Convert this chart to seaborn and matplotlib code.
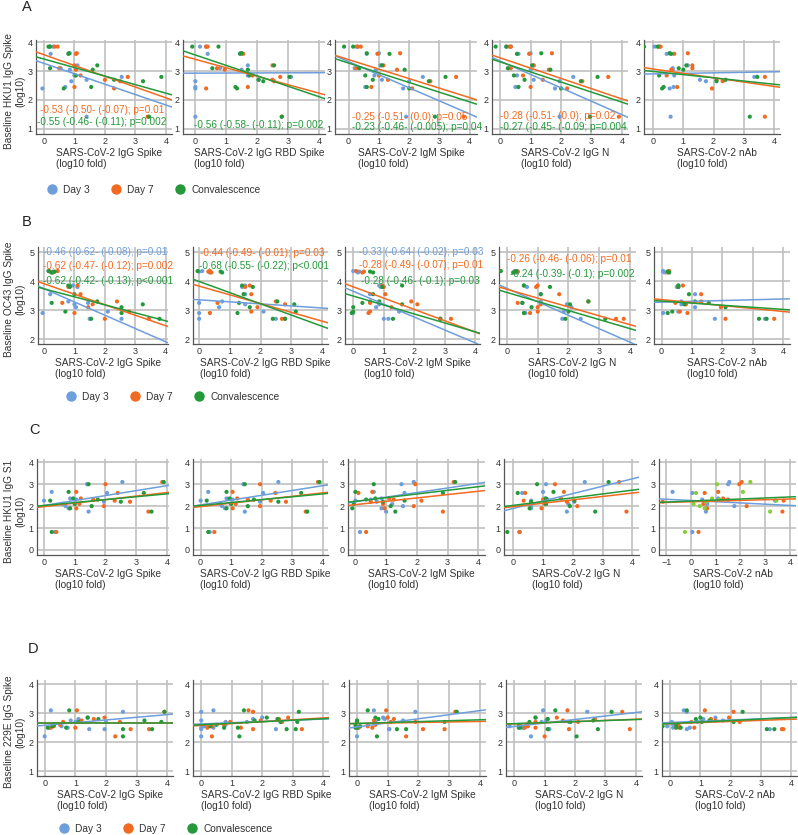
import numpy as np
import pandas as pd
import matplotlib
matplotlib.use("Agg")
import matplotlib.pyplot as plt
from matplotlib.lines import Line2D
import seaborn as sns

NA = np.nan
GROUPS = ["Day 3", "Day 7", "Convalescence"]
X_LABELS = ["SARS-CoV-2 IgG Spike", "SARS-CoV-2 IgG RBD Spike", "SARS-CoV-2 IgM Spike",
            "SARS-CoV-2 IgG N", "SARS-CoV-2 nAb"]
X_UNIT = "(log10 fold)"
ROW_LETTERS = ["A", "B", "C", "D"]
Y_LABELS = ["Baseline HKU1 IgG Spike", "Baseline OC43 IgG Spike",
            "Baseline HKU1 IgG S1", "Baseline 229E IgG Spike"]
Y_UNIT = "(log10)"

# ---------------- Row A : baseline HKU1 IgG Spike ----------------
a_base = [3.85, 3.85, 3.6, 3.62, 3.2, 3.1, 3.05, 2.85, 2.8, 2.7, 2.65, 2.45, 2.4, 1.42]
a_igg_d3 = [0.2, 0.3, 0.22, 0.85, 1.1, 0.55, 0.85, 1.0, 2.55, 1.4, 0.9, 0.7, -0.05, 1.4]
a_igg_d7 = [0.35, 0.45, 1.05, 1.08, 1.0, 0.5, 1.05, 1.2, 2.75, 2.0, 2.5, 1.0, 2.3, 3.4]
a_igg_cv = [0.15, 0.2, 0.8, 0.82, 1.75, 0.2, 1.6, 1.05, 3.85, 2.3, 3.25, 1.55, 0.65, 3.45]
a_rbd_d3 = [0.15, 0.35, 0.4, 1.45, 1.7, 0.8, 1.5, 1.7, 3.1, 2.05, 0.0, 0.0, 0.0, 0.0]
a_rbd_d7 = [0.35, 0.4, 1.55, 1.5, 2.5, 0.7, 0.95, 1.85, 2.75, 2.5, 2.55, 1.7, 0.35, 2.8]
a_rbd_cv = [-0.1, 0.75, 1.45, 1.5, 2.55, 0.55, 1.7, 1.75, 3.05, 2.05, 2.2, 1.3, 1.35, 2.8]
a_igm_d3 = [0.3, 0.25, 0.6, 1.0, 1.05, 0.2, 0.9, 0.85, 2.45, 1.1, 2.0, 0.55, 1.8, 1.9]
a_igm_d7 = [0.3, 0.4, 0.95, 1.7, 1.15, 0.25, 1.6, 1.0, 3.55, 1.3, 2.7, 0.75, 2.1, 3.8]
a_igm_cv = [-0.15, 0.15, 1.35, 0.6, 1.1, 0.35, 1.85, 0.55, 3.2, 0.8, 2.65, 0.6, 2.0, 2.85]
a_n_d3 = [0.2, 0.35, 0.6, 1.0, 1.1, 0.3, 1.0, 0.55, 2.4, 1.1, 1.95, 0.5, 1.8, 1.95]
a_n_d7 = [0.3, 0.35, 0.95, 1.7, 1.1, 0.35, 1.6, 0.75, 3.55, 1.4, 2.7, 1.0, 2.2, 3.9]
a_n_cv = [-0.15, 0.2, 0.55, 1.35, 1.05, 0.25, 1.65, 0.45, 3.2, 0.8, 2.65, 0.6, 2.0, 2.95]
a_nab_d3 = [0.05, 0.2, 0.45, 0.55, 1.15, 0.65, 0.65, 0.7, 3.35, 1.55, 1.75, 0.68, 0.55, 0.58]
a_nab_d7 = [0.25, 0.2, 0.7, 1.15, 1.3, 1.3, 0.6, 0.45, 3.7, 2.1, 2.3, 0.8, 1.95, 3.7]
a_nab_cv = [-0.3, 0.15, 0.6, 0.55, 1.1, 0.85, 1.0, 0.2, 3.45, 2.4, 2.1, 0.35, 0.3, 3.2]

# ---------------- Row B : baseline OC43 IgG Spike ----------------
b_base = [4.35, 4.3, 4.33, 3.85, 3.8, 3.55, 3.3, 3.25, 3.2, 3.1, 2.95, 2.9, 2.7, 2.7]
b_igg_d3 = [0.15, 0.25, 0.3, 0.95, 1.1, 0.2, 0.8, 1.45, 1.0, 1.05, 2.1, -0.05, 1.5, 2.55]
b_igg_d7 = [0.45, 0.3, 0.2, 1.1, 0.8, 1.2, 2.4, 0.6, 1.6, 1.45, 2.8, 1.0, 3.45, 2.0]
b_igg_cv = [0.15, 0.25, 0.35, 0.8, 0.85, 1.0, 1.75, 0.25, 3.25, 2.55, 0.7, 2.55, 3.8, 1.55]
b_rbd_d3 = [0.1, 0.35, 0.0, 1.5, 1.4, 1.5, 0.75, 0.0, 1.5, 0.65, 2.1, 0.0, 0.0, 2.5]
b_rbd_d7 = [0.35, 0.4, 0.3, 1.65, 1.5, 1.7, 2.5, 0.6, 2.8, 1.9, 1.7, 0.35, 2.7, 2.8]
b_rbd_cv = [-0.05, 0.75, 0.7, 1.4, 1.75, 1.45, 2.55, 1.3, 3.1, 1.65, 3.15, 1.25, 2.4, 2.8]
b_igm_d3 = [0.0, 0.15, 0.2, 0.85, 0.9, 0.55, 0.55, 0.85, 0.85, 0.75, 1.5, 0.0, 1.0, 1.15]
b_igm_d7 = [0.1, 0.3, 0.35, 0.95, 1.0, 1.05, 1.9, 0.55, 2.1, 1.25, 0.55, 0.5, 2.85, 3.2]
b_igm_cv = [-0.3, 0.65, 0.55, 1.6, 0.95, 0.65, 0.85, 0.3, 1.6, 0.0, 0.0, -0.05, 1.3, 2.85]
b_n_d3 = [0.25, 0.3, 0.35, 0.55, 0.65, 1.1, 1.1, 0.5, 1.95, 2.1, 1.85, 0.6, 1.8, 2.4]
b_n_d7 = [0.3, 0.25, 0.35, 1.0, 0.95, 1.7, 2.65, 0.35, 1.1, 1.0, 1.0, 0.75, 3.55, 3.8]
b_n_cv = [-0.2, 0.2, 0.3, 0.55, 1.4, 1.1, 2.65, 0.5, 2.05, 0.8, 2.0, 0.55, 1.9, 3.2]
b_nab_d3 = [0.05, 0.1, 0.05, 0.55, 0.5, 1.1, 0.65, 0.7, 0.65, 1.1, 0.55, 0.05, 1.75, 3.4]
b_nab_d7 = [0.25, 0.2, 0.2, 0.7, 0.55, 1.3, 1.3, 0.45, 0.8, 1.95, 0.6, 0.85, 2.1, 3.7]
b_nab_cv = [-0.3, 0.25, 0.2, 0.55, 0.55, 0.9, 1.1, 1.55, 0.75, 2.1, 0.35, 0.2, 3.2, 3.45]

# ---------------- Row C : baseline HKU1 IgG S1 ----------------
c_base = [3.1, 3.0, 2.65, 2.6, 2.35, 2.3, 2.25, 2.2, 2.1, 2.0, 1.9, 1.75, 0.82]
c_igg_d3 = [2.55, 1.4, 0.25, 2.05, 0.85, 1.05, 0.0, 1.95, 0.6, 0.7, 0.8, 1.45, 0.35]
c_igg_d7 = [3.85, 2.0, 1.05, 2.4, 1.2, 1.6, 2.3, 2.8, 1.15, 1.95, 1.05, 3.4, 0.4]
c_igg_cv = [3.9, 1.45, 0.8, 3.25, 0.95, 1.75, 0.2, 2.5, 1.0, 1.55, 0.85, 3.5, 0.25]
c_rbd_d3 = [2.55, 1.4, 0.25, 2.05, 0.85, 1.05, 0.0, 1.95, 0.65, 0.7, 0.8, 1.45, 0.3]
c_rbd_d7 = [3.85, 1.95, 1.05, 2.45, 1.2, 1.55, 2.3, 2.8, 1.15, 1.95, 1.05, 3.45, 0.45]
c_rbd_cv = [3.9, 1.45, 0.85, 3.3, 0.95, 1.75, 0.2, 2.55, 1.0, 1.55, 0.85, 3.5, 0.25]
c_igm_d3 = [1.9, 1.5, 0.6, 1.6, 0.85, 0.5, 0.0, 0.7, 1.2, 1.55, 0.85, 1.0, 0.15]
c_igm_d7 = [3.2, 1.95, 0.55, 0.1, 1.1, 1.25, 2.15, 0.5, 0.9, 1.9, 0.95, 2.85, 0.35]
c_igm_cv = [3.25, 0.6, 0.0, 2.85, 0.65, 0.35, 1.6, 0.9, -0.05, 1.15, -0.1, 1.3, NA]
c_n_d3 = [2.4, 1.1, 1.0, 0.3, 1.05, 1.15, 0.6, 2.05, 1.85, 0.6, 0.6, 1.8, 0.2]
c_n_d7 = [3.55, 1.4, 1.7, 0.4, 1.6, 1.0, 0.35, 1.8, 1.05, 2.15, 0.95, 3.8, 0.22]
c_n_cv = [3.2, 0.8, 1.35, 0.15, 1.1, 1.12, 2.05, 0.6, 1.1, 1.9, 0.55, 2.75, -0.2]
c_nab_d3 = [1.55, 1.5, -0.75, 0.05, 1.1, 0.45, 3.4, 0.65, 0.65, 1.75, 0.6, 0.6, 0.05]
c_nab_d7 = [2.05, 1.95, 1.1, 0.55, 1.3, 1.5, 3.75, -1.15, 0.5, 2.25, 0.65, 3.7, 0.3]
c_nab_cv = [2.4, 1.05, 2.1, 0.2, 0.85, 1.15, 3.45, 0.6, 0.1, 0.35, 0.55, 3.2, -0.25]

# ---------------- Row D : baseline 229E IgG Spike ----------------
d_base = [3.1, 3.05, 2.85, 2.8, 2.75, 2.7, 2.7, 2.6, 2.55, 2.5, 2.5, 2.45, 2.45, 2.2]
d_igg_d3 = [0.2, 2.55, 1.4, 1.1, 0.85, 1.0, 2.0, 0.3, 0.55, 0.15, 0.75, 1.45, 1.95, 0.0]
d_igg_d7 = [1.05, 3.9, 1.95, 1.6, 1.2, 2.45, 0.6, 0.5, 0.3, 0.2, 1.0, 2.8, 3.4, 2.3]
d_igg_cv = [0.8, 3.9, 1.4, 1.75, 3.25, 1.1, 3.8, 0.3, 0.25, 0.1, 0.7, 3.5, 2.55, 2.55]
d_rbd_d3 = [0.4, 0.0, 2.0, 1.7, 0.0, 1.5, 0.8, 0.8, 0.1, 0.4, 0.0, 2.45, 0.0, 0.0]
d_rbd_d7 = [1.55, 1.7, 2.85, 2.55, 1.95, 2.65, 0.95, 0.75, 0.35, 1.3, 0.2, 3.3, 1.7, 0.35]
d_rbd_cv = [1.4, 3.2, 2.15, 2.5, 1.75, 2.6, 3.15, 0.5, 0.3, 0.75, 1.2, 2.8, 3.1, 1.25]
d_igm_d3 = [0.55, 1.9, 0.85, 0.9, 1.5, 0.6, 0.6, 0.35, 0.1, 0.0, 0.05, 1.05, 1.05, 0.0]
d_igm_d7 = [0.95, 3.2, 1.0, 1.2, 0.55, 1.9, 1.1, 0.6, 0.35, 0.05, 0.5, 2.15, 2.85, 1.6]
d_igm_cv = [0.35, 3.25, 0.6, 0.7, 0.0, 2.85, 0.0, -0.05, 0.1, -0.05, 0.0, 1.3, 1.6, 0.65]
d_n_d3 = [0.95, 2.4, 0.7, 1.1, 1.05, 1.8, 0.9, 0.2, -0.15, 0.3, 0.3, 1.15, 1.15, 0.55]
d_n_d7 = [1.75, 3.55, 1.4, 2.65, 1.6, 2.1, 0.7, 0.4, 0.45, 0.35, 0.7, 1.8, 3.8, 1.0]
d_n_cv = [1.35, 3.2, 0.7, 1.1, 2.6, 0.5, 1.85, 0.15, 0.2, 0.15, 0.2, 2.75, 1.1, 2.05]
d_nab_d3 = [0.45, 0.55, 1.5, 1.1, 1.75, 0.9, 0.05, 0.1, -0.1, 0.65, 0.1, 0.55, 3.3, NA]
d_nab_d7 = [1.15, 2.1, 1.95, 1.35, 1.5, 2.3, 0.7, 0.25, 0.3, 0.3, 0.8, 3.7, 3.75, NA]
d_nab_cv = [0.55, 2.4, 1.0, 0.85, 1.3, 2.1, 1.05, 0.2, -0.25, 0.35, 0.2, 3.2, 3.45, NA]

# ---------------- fitted regression lines (intercept at x=0, slope) ----------------
a_icpt = {"Day 3": [3.27, 2.93, 3.33, 3.35, 2.905],
          "Day 7": [3.57, 3.41, 3.40, 3.46, 3.075],
          "Convalescence": [3.42, 3.56, 3.28, 3.32, 2.99]}
a_slope = {"Day 3": [-0.361, 0.004, -0.454, -0.465, 0.018],
           "Day 7": [-0.374, -0.293, -0.330, -0.356, -0.151],
           "Convalescence": [-0.296, -0.361, -0.337, -0.349, -0.111]}
b_icpt = {"Day 3": [3.74, 3.356, 3.65, 3.75, 3.277],
          "Day 7": [3.91, 3.83, 3.805, 3.72, 3.364],
          "Convalescence": [3.735, 3.99, 3.486, 3.61, 3.312]}
b_slope = {"Day 3": [-0.458, -0.0705, -0.446, -0.464, 0.027],
           "Day 7": [-0.362, -0.302, -0.391, -0.305, -0.103],
           "Convalescence": [-0.276, -0.386, -0.310, -0.312, -0.0716]}
c_icpt = {"Day 3": [2.03, 2.055, 2.20, 1.895, 2.257],
          "Day 7": [1.977, 1.979, 2.067, 1.978, 2.20],
          "Convalescence": [2.03, 2.033, 2.22, 2.034, 2.231]}
c_slope = {"Day 3": [0.2256, 0.219, 0.209, 0.338, -0.0559],
           "Day 7": [0.160, 0.156, 0.153, 0.1545, 0.0306],
           "Convalescence": [0.1326, 0.131, 0.1667, 0.174, 0.0468]}
d_icpt = {"Day 3": [2.583, 2.63, 2.527, 2.543, 2.681],
          "Day 7": [2.67, 2.578, 2.645, 2.631, 2.64],
          "Convalescence": [2.68, 2.604, 2.648, 2.64, 2.644]}
d_slope = {"Day 3": [0.0926, 0.0426, 0.141, 0.1208, 0.0425],
           "Day 7": [0.0, 0.065, 0.018, 0.0403, 0.038],
           "Convalescence": [0.0, 0.0516, 0.0314, 0.0358, 0.0515]}

# ---------------- correlation annotations: (row, col, group, text) ----------------
ANNOTATIONS = [
    (0, 0, "Day 7", "-0.53 (-0.50- (-0.07); p=0.01"),
    (0, 0, "Convalescence", "-0.55 (-0.46- (-0.11); p=0.002"),
    (0, 1, "Convalescence", "-0.56 (-0.58- (-0.11); p=0.002"),
    (0, 2, "Day 7", "-0.25 (-0.51- (0.0); p=0.05"),
    (0, 2, "Convalescence", "-0.23 (-0.46- (-0.005); p=0.04"),
    (0, 3, "Day 7", "-0.28 (-0.51- (0.0); p=0.02"),
    (0, 3, "Convalescence", "-0.27 (-0.45- (-0.09; p=0.004"),
    (1, 0, "Day 3", "-0.46 (-0.62- (-0.08); p=0.01"),
    (1, 0, "Day 7", "-0.62 (-0.47- (-0.12); p=0.002"),
    (1, 0, "Convalescence", "-0.62 (-0.42- (-0.13); p<0.001"),
    (1, 1, "Day 7", "-0.44 (-0.49- (-0.01); p=0.03"),
    (1, 1, "Convalescence", "-0.68 (-0.55- (-0.22); p<0.001"),
    (1, 2, "Day 3", "-0.33 (-0.64- (-0.02); p=0.03"),
    (1, 2, "Day 7", "-0.28 (-0.49- (-0.07); p=0.01"),
    (1, 2, "Convalescence", "-0.28 (-0.46- (-0.1); p=0.03"),
    (1, 3, "Day 7", "-0.26 (-0.46- (-0.06); p=0.01"),
    (1, 3, "Convalescence", "-0.24 (-0.39- (-0.1); p=0.002"),
]
# annotation anchor positions (data coords), same order as ANNOTATIONS
ANNOT_POS = [(-0.13, 1.66), (-0.23, 1.25), (-0.03, 1.14), (0.1, 1.40), (0.1, 1.06),
             (0.0, 1.43), (0.0, 1.08),
             (-0.03, 5.02), (-0.03, 4.53), (-0.03, 4.02), (0.03, 4.97), (0.0, 4.53),
             (0.18, 5.0), (0.2, 4.57), (0.27, 4.02), (0.0, 4.77), (0.1, 4.25)]

ROWS = [
    (a_base, [(a_igg_d3, a_igg_d7, a_igg_cv), (a_rbd_d3, a_rbd_d7, a_rbd_cv),
              (a_igm_d3, a_igm_d7, a_igm_cv), (a_n_d3, a_n_d7, a_n_cv),
              (a_nab_d3, a_nab_d7, a_nab_cv)], a_icpt, a_slope),
    (b_base, [(b_igg_d3, b_igg_d7, b_igg_cv), (b_rbd_d3, b_rbd_d7, b_rbd_cv),
              (b_igm_d3, b_igm_d7, b_igm_cv), (b_n_d3, b_n_d7, b_n_cv),
              (b_nab_d3, b_nab_d7, b_nab_cv)], b_icpt, b_slope),
    (c_base, [(c_igg_d3, c_igg_d7, c_igg_cv), (c_rbd_d3, c_rbd_d7, c_rbd_cv),
              (c_igm_d3, c_igm_d7, c_igm_cv), (c_n_d3, c_n_d7, c_n_cv),
              (c_nab_d3, c_nab_d7, c_nab_cv)], c_icpt, c_slope),
    (d_base, [(d_igg_d3, d_igg_d7, d_igg_cv), (d_rbd_d3, d_rbd_d7, d_rbd_cv),
              (d_igm_d3, d_igm_d7, d_igm_cv), (d_n_d3, d_n_d7, d_n_cv),
              (d_nab_d3, d_nab_d7, d_nab_cv)], d_icpt, d_slope),
]

# ---------------- styling / layout ----------------
sns.set_style("white")
plt.rcParams["font.family"] = ["Liberation Sans", "DejaVu Sans"]

COLORS = {"Day 3": "#6e9edb", "Day 7": "#f26a21", "Convalescence": "#23993a"}
LIME = "#86cf3a"
W, H = 798, 835
fig = plt.figure(figsize=(W / 100, H / 100), dpi=100)

# pixel layout per row: (lefts, rights, top, bottom)
LAYOUT = [
    ([36, 183, 335, 492, 644], [172, 325, 477, 628, 780], 40, 134),
    ([38, 193, 345, 499, 654], [168, 328, 480, 636, 790], 247, 344),
    ([37, 193, 348, 504, 659], [169, 328, 485, 639, 796], 459, 555),
    ([37, 193, 349, 506, 662], [173, 329, 486, 642, 797], 680, 776),
]
YLIMS = [(0.82, 4.08), (1.83, 5.18), (-0.23, 4.15), (0.83, 4.15)]
YTICKS = [[1, 2, 3, 4], [2, 3, 4, 5], [0, 1, 2, 3, 4], [1, 2, 3, 4]]
XLIMS = [
    [(-0.26, 4.2), (-0.4, 4.2), (-0.45, 4.24), (-0.27, 4.2), (-0.3, 4.2)],
    [(-0.2, 4.08), (-0.2, 4.2), (-0.27, 4.15), (-0.26, 4.2), (-0.25, 4.22)],
    [(-0.23, 4.07), (-0.25, 4.18), (-0.24, 4.22), (-0.31, 4.22), (-1.3, 4.25)],
    [(-0.25, 4.18), (-0.27, 4.19), (-0.26, 4.2), (-0.27, 4.2), (-0.27, 4.2)],
]
LETTER_POS = [(27, 7), (27, 222), (34, 430), (33, 649)]
LEGEND_POS = {0: (47, 190), 1: (66, 397), 3: (59, 829)}

axes = {}
for r, (base, panels, icpt, slope) in enumerate(ROWS):
    lefts, rights, top, bottom = LAYOUT[r]
    for c in range(5):
        l, rr = lefts[c], rights[c]
        ax = fig.add_axes([l / W, 1 - bottom / H, (rr - l) / W, (bottom - top) / H])
        axes[(r, c)] = ax
        xs = panels[c]
        df = pd.DataFrame({
            "x": np.concatenate([np.asarray(v, float) for v in xs]),
            "y": np.concatenate([np.asarray(base, float)] * 3),
            "group": np.repeat(GROUPS, len(base)),
        }).dropna()
        pal = dict(COLORS)
        if r == 2 and c == 4:
            pal["Convalescence"] = LIME
        sns.scatterplot(data=df, x="x", y="y", hue="group", hue_order=GROUPS,
                        palette=pal, s=9, linewidth=0, legend=False, ax=ax, zorder=3)
        for g in GROUPS:
            ax.axline((0, icpt[g][c]), slope=slope[g][c], color=COLORS[g], lw=1.1, zorder=4)
        ax.set_xlim(*XLIMS[r][c])
        ax.set_ylim(*YLIMS[r])
        ax.set_yticks(YTICKS[r])
        ax.set_xticks([-1, 0, 1, 2, 3, 4] if (r == 2 and c == 4) else [0, 1, 2, 3, 4])
        ax.grid(True, color="#c0c0c0", lw=1.2)
        ax.set_axisbelow(True)
        for s in ["top", "right"]:
            ax.spines[s].set_visible(False)
        for s in ["left", "bottom"]:
            ax.spines[s].set_color("#555555")
            ax.spines[s].set_linewidth(0.9)
        ax.tick_params(axis="both", labelsize=6.5, length=1.5, width=0.8, pad=0.8,
                       colors="#444444", labelcolor="#333333")
        ax.set_ylabel("")
        ax.set_xlabel(X_LABELS[c] + "\n" + X_UNIT, fontsize=7.3, color="#333333",
                      multialignment="left", linespacing=1.15)
        ax.xaxis.set_label_coords(0.5 + 5 / (rr - l), -14 / (bottom - top))

    # row letter and y label
    lx, ly = LETTER_POS[r]
    fig.text(lx / W, 1 - ly / H, ROW_LETTERS[r], fontsize=10.5, ha="center", va="center",
             color="#222222")
    fig.text(15 / W, 1 - ((top + bottom) / 2 + 4) / H, Y_LABELS[r] + "\n" + Y_UNIT,
             rotation=90, fontsize=7.3, ha="center", va="center", multialignment="center",
             color="#333333", linespacing=1.15)

for (row, col, g, txt), (tx, ty) in zip(ANNOTATIONS, ANNOT_POS):
    axes[(row, col)].text(tx, ty, txt, color=COLORS[g], fontsize=7.2, ha="left",
                          va="center", zorder=6)

handles = [Line2D([], [], marker="o", ls="", markersize=7.5, markerfacecolor=COLORS[g],
                  markeredgewidth=0) for g in GROUPS]
for r, (px, py) in LEGEND_POS.items():
    fig.legend(handles, GROUPS, loc="center left", bbox_to_anchor=(px / W, 1 - py / H),
               ncol=3, frameon=False, fontsize=7.3, handlelength=1.0, handletextpad=0.6,
               columnspacing=2.1, borderaxespad=0, borderpad=0, labelcolor="#333333")

fig.savefig("out.png", dpi=100)
